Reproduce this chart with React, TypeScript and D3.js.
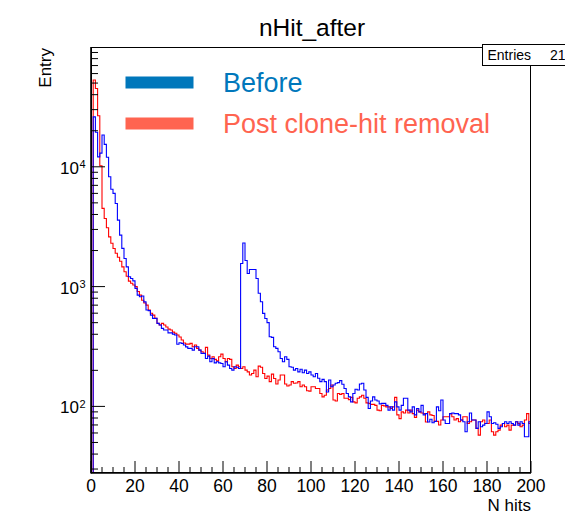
import React from "react";
import * as d3 from "d3";

// Histogram bins: 200 bins of width 1 on [0, 200]
const nBins = 200;
const xMin = 0;
const xMax = 200;

const beforeValues: number[] = [
  0, 26100, 19400, 12100, 13000, 18400, 15400, 12000, 8260, 6500,
  6000, 4940, 3590, 2692, 2084, 1718, 1462, 1208, 1170, 1117,
  966, 849, 822, 835, 746, 637, 630, 578, 543, 543,
  493, 478, 448, 434, 434, 411, 411, 401, 394, 330,
  340, 336, 325, 314, 305, 305, 295, 315, 315, 295,
  277, 277, 251, 263, 236, 251, 231, 236, 231, 228,
  214, 236, 221, 207, 201, 214, 212, 207, 1561, 2310,
  1650, 1288, 1391, 1391, 1391, 1170, 880, 747, 598, 542,
  500, 381, 377, 315, 305, 286, 251, 236, 260, 247,
  214, 212, 201, 207, 194, 204, 191, 201, 188, 194,
  183, 177, 188, 172, 161, 168, 161, 132, 166, 146,
  151, 156, 158, 164, 153, 141, 128, 120, 109, 128,
  139, 137, 154, 156, 137, 119, 96, 111, 120, 113,
  111, 105, 106, 106, 102, 93, 99, 93, 109, 99,
  93, 102, 117, 117, 93, 90, 99, 85, 96, 90,
  102, 85, 87, 74, 78, 73, 75, 99, 92, 113,
  77, 72, 72, 87, 88, 87, 87, 85, 77, 74.5,
  61.4, 74.5, 88, 77, 77, 65.5, 74.5, 67.6, 69.8, 72,
  90, 82, 72, 73, 71, 65.5, 67.6, 72, 74.5, 72,
  74.5, 72, 69.8, 74.5, 69.8, 74.5, 72, 55.8, 55.8, 74.5,
];

const afterValues: number[] = [
  0, 53000, 45000, 26700, 10200, 4500, 3700, 3100, 2600, 2300,
  2080, 1900, 1760, 1630, 1462, 1330, 1220, 1110, 1065, 1030,
  1000, 910, 849, 770, 730, 700, 637, 600, 578, 545,
  495, 478, 493, 478, 460, 442, 434, 417, 408, 394,
  380, 358, 338, 331, 331, 336, 315, 325, 305, 295,
  286, 277, 311, 268, 251, 260, 247, 240, 260, 273,
  251, 236, 251, 247, 214, 207, 221, 214, 207, 214,
  201, 194, 183, 188, 201, 177, 217, 212, 188, 171,
  179, 161, 186, 171, 154, 166, 183, 183, 154, 148,
  151, 161, 156, 157, 161, 146, 151, 146, 135, 134,
  146, 146, 141, 141, 128, 120, 124, 137, 141, 151,
  113, 111, 128, 126, 128, 117, 117, 114, 119, 109,
  107, 117, 120, 124, 117, 107, 106, 104, 104, 102,
  93, 92, 102, 101, 99, 99, 96, 99, 119, 85,
  79, 90, 88, 93, 88, 93, 87, 81, 93, 90,
  88, 87, 74, 90, 85, 84, 75, 75, 70, 77,
  82, 82, 82, 87, 82, 77, 79, 74.5, 77, 82,
  82, 72, 74.5, 77, 77, 65.5, 57.6, 74.5, 77, 72,
  72, 77, 61.4, 57.6, 61.4, 63.4, 69.8, 72, 67.6, 69.8,
  63.4, 69.8, 69.8, 74.5, 72, 67.6, 69.8, 77, 87, 72,
];

const xTickLabels: number[] = [0, 20, 40, 60, 80, 100, 120, 140, 160, 180, 200];
const yDecades: number[] = [2, 3, 4];
const legendLabels: string[] = ["Before", "Post clone-hit removal"];
const titleText = "nHit_after";
const xTitle = "N hits";
const yTitle = "Entry";
const statLabel = "Entries";
const statValue = "21";

const W = 565;
const H = 520;
const frame = { left: 91, right: 531, top: 47, bottom: 473 };
const yMin = 27.8;
const yMax = 1e5;
const FONT = "'Liberation Sans', Arial, Helvetica, sans-serif";

export default function App() {
  const x = d3.scaleLinear().domain([xMin, xMax]).range([frame.left, frame.right]);
  const y = d3.scaleLog().domain([yMin, yMax]).range([frame.bottom, frame.top]);
  const binW = (xMax - xMin) / nBins;

  const histPath = (vals: number[]) => {
    const pts: [number, number][] = [[xMin, yMin]];
    vals.forEach((v, i) => pts.push([xMin + i * binW, Math.max(v, yMin)]));
    pts.push([xMax, Math.max(vals[vals.length - 1], yMin)]);
    pts.push([xMax, yMin]);
    const line = d3
      .line<[number, number]>()
      .x((d) => x(d[0]))
      .y((d) => y(d[1]))
      .curve(d3.curveStepAfter);
    return line(pts) || "";
  };

  const minorX = d3.range(xMin, xMax + 0.001, 5).filter((v) => v % 20 !== 0);
  const minorY: number[] = [];
  for (let e = 1; e <= 4; e++) {
    for (let m = 2; m <= 9; m++) {
      const v = m * Math.pow(10, e);
      if (v >= yMin && v <= yMax) minorY.push(v);
    }
  }

  return (
    <svg
      width={W}
      height={H}
      style={{ position: "absolute", left: 0, top: 0, background: "#fff" }}
      fontFamily={FONT}
    >
      <rect x={0} y={0} width={W} height={H} fill="#fff" />
      <defs>
        <clipPath id="frameClip">
          <rect x={frame.left} y={frame.top} width={frame.right - frame.left} height={frame.bottom - frame.top} />
        </clipPath>
      </defs>

      {/* title */}
      <text x={312} y={36} fontSize={24.5} textAnchor="middle" fill="#000">
        {titleText}
      </text>

      {/* histograms */}
      <g clipPath="url(#frameClip)" fill="none" strokeWidth={1.1}>
        <path d={histPath(afterValues)} stroke="#ff0000" />
        <path d={histPath(beforeValues)} stroke="#0000ff" />
      </g>

      {/* frame */}
      <rect
        x={frame.left + 0.5}
        y={frame.top + 0.5}
        width={frame.right - frame.left - 1}
        height={frame.bottom - frame.top - 1}
        fill="none"
        stroke="#000"
        strokeWidth={1}
      />
      <line x1={frame.left} x2={frame.left} y1={frame.top} y2={frame.bottom + 0.5} stroke="#000" strokeWidth={1.6} />
      <line x1={frame.left} x2={frame.right} y1={frame.bottom} y2={frame.bottom} stroke="#000" strokeWidth={1.6} />

      {/* x ticks */}
      {xTickLabels.map((t) => (
        <g key={"xt" + t}>
          <line x1={x(t)} x2={x(t)} y1={frame.bottom} y2={frame.bottom - 12} stroke="#000" strokeWidth={1} />
          <text x={x(t)} y={492} fontSize={17.5} textAnchor="middle" fill="#000">
            {t}
          </text>
        </g>
      ))}
      {minorX.map((t) => (
        <line key={"xm" + t} x1={x(t)} x2={x(t)} y1={frame.bottom} y2={frame.bottom - 6} stroke="#000" strokeWidth={1} />
      ))}

      {/* y ticks */}
      {yDecades.map((e) => {
        const v = Math.pow(10, e);
        const yy = y(v);
        return (
          <g key={"yt" + e}>
            <line x1={frame.left} x2={frame.left + 14} y1={yy} y2={yy} stroke="#000" strokeWidth={1} />
            <text x={79} y={yy + 7} fontSize={17} textAnchor="end" fill="#000">
              10
            </text>
            <text x={79.5} y={yy + 1.5} fontSize={11} textAnchor="start" fill="#000">
              {e}
            </text>
          </g>
        );
      })}
      {minorY.map((v) => (
        <line key={"ym" + v} x1={frame.left} x2={frame.left + 7} y1={y(v)} y2={y(v)} stroke="#000" strokeWidth={1} />
      ))}

      {/* axis titles */}
      <text x={531} y={511} fontSize={17} textAnchor="end" fill="#000">
        {xTitle}
      </text>
      <text
        transform={`translate(51,${frame.top + 1}) rotate(-90)`}
        fontSize={17}
        textAnchor="end"
        fill="#000"
      >
        {yTitle}
      </text>

      {/* legend */}
      <rect x={125.5} y={76.5} width={68} height={12} fill="#0077BB" />
      <text x={223} y={92} fontSize={27} fill="#0077BB">
        {legendLabels[0]}
      </text>
      <rect x={125.5} y={117.5} width={68} height={12} fill="#FF6450" />
      <text x={223} y={133} fontSize={27} fill="#FF6450">
        {legendLabels[1]}
      </text>

      {/* stats box */}
      <rect x={482.5} y={44.5} width={120} height={21} fill="#fff" stroke="#000" strokeWidth={1} />
      <text x={487.5} y={59.5} fontSize={14} fill="#000">
        {statLabel}
      </text>
      <text x={550} y={59.5} fontSize={14} fill="#000">
        {statValue}
      </text>
    </svg>
  );
}
